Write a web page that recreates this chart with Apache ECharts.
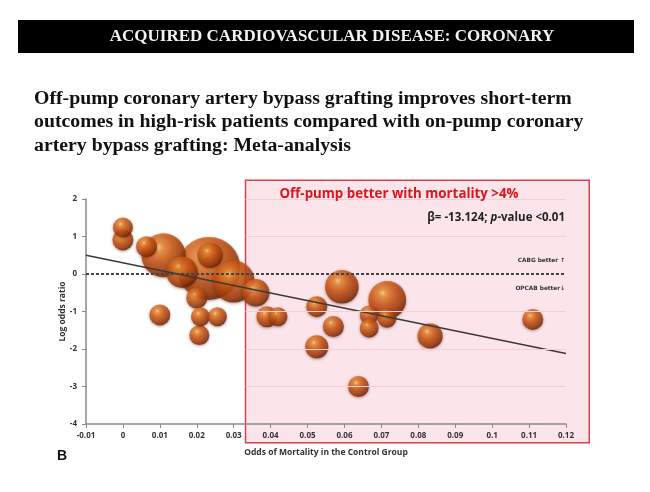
<!DOCTYPE html>
<html>
<head>
<meta charset="UTF-8">
<title>Off-pump meta-analysis</title>
<script src="https://cdn.jsdelivr.net/npm/echarts@6/dist/echarts.min.js"></script>
<style>
  html, body { margin: 0; padding: 0; background: #fff; }
  #main { width: 650px; height: 492px; }
</style>
</head>
<body>
<div id="main"></div>
<script>
// odds of mortality in control group (x), log odds ratio (y), relative study weight
var oddsX  = [0.0233, 0.0110, 0.0716, 0.0593, 0.0300, 0.0160, 0.0236, 0.0360, 0.0832,
              0.0000, 0.0000, 0.0064, 0.0200, 0.0100, 0.0210, 0.0256, 0.0207, 0.0390, 0.0420,
              0.0525, 0.0570, 0.0525, 0.0638, 0.0667, 0.0667, 0.0715, 0.1110];
var logOR  = [0.15, 0.50, -0.69, -0.34, -0.20, 0.05, 0.50, -0.50, -1.65,
              1.24, 0.91, 0.73, -0.64, -1.09, -1.14, -1.14, -1.63, -1.14, -1.14,
              -0.87, -1.40, -1.94, -3.00, -1.09, -1.44, -1.18, -1.21];
var weight = [60, 42, 36, 32, 40, 30, 24, 26, 24,
              19, 20, 20, 20, 20, 18, 18, 19, 20, 18,
              20, 20, 22, 20, 18, 18, 18, 20];

// meta-regression line end points
var fitX = [-0.01, 0.12];
var fitY = [0.50, -2.12];

var yTicks = [2, 1, -1, -2, -3];      // faint guide lines inside shaded box
var boxX = [0.0332, 0.1263];          // shaded region (data units)
var boxY = [2.5, -4.5];

var points = oddsX.map(function (x, i) { return [x, logOR[i], weight[i]]; });
points.sort(function (a, b) { return b[2] - a[2]; });

var sphere = new echarts.graphic.RadialGradient(0.38, 0.32, 0.72, [
  { offset: 0, color: '#ffd77e' },
  { offset: 0.15, color: '#f08c38' },
  { offset: 0.45, color: '#cf5814' },
  { offset: 0.8, color: '#9a3608' },
  { offset: 1, color: '#571c05' }
]);

var chart = echarts.init(document.getElementById('main'));

var labelFont = { fontFamily: 'Open Sans', fontWeight: 'bold', fontSize: 8, color: '#333' };

var option = {
  animation: false,
  grid: { left: 86, right: 84, top: 199, bottom: 68 },
  xAxis: {
    type: 'value', min: -0.01, max: 0.12, interval: 0.01,
    name: 'Odds of Mortality in the Control Group',
    nameLocation: 'middle', nameGap: 24,
    nameTextStyle: { fontFamily: 'Open Sans', fontWeight: 'bold', fontSize: 8.5, color: '#333' },
    axisLine: { onZero: false, lineStyle: { color: '#8a8a8a', width: 1.5 } },
    axisTick: { show: true, length: 4, lineStyle: { color: '#8a8a8a' } },
    axisLabel: Object.assign({ margin: 8 }, labelFont),
    splitLine: { show: false }
  },
  yAxis: {
    type: 'value', min: -4, max: 2, interval: 1,
    name: 'Log odds ratio',
    nameLocation: 'middle', nameGap: 19, nameMoveOverlap: false,
    nameTextStyle: { fontFamily: 'Open Sans', fontWeight: 'bold', fontSize: 8.5, color: '#333' },
    axisLine: { show: true, onZero: false, lineStyle: { color: '#8a8a8a', width: 1.5 } },
    axisTick: { show: true, length: 4, lineStyle: { color: '#8a8a8a' } },
    axisLabel: Object.assign({ margin: 9 }, labelFont),
    splitLine: { show: false }
  },
  series: [
    {
      type: 'line',
      name: 'guides',
      data: [],
      silent: true,
      z: 1,
      markLine: {
        silent: true, symbol: 'none', animation: false,
        label: { show: false },
        lineStyle: { color: '#f6ccd5', type: 'solid', width: 1 },
        data: yTicks.map(function (v) {
          return [{ coord: [boxX[0], v] }, { coord: [0.12, v] }];
        })
      }
    },
    {
      type: 'scatter',
      name: 'studies',
      z: 3,
      data: points,
      symbolSize: function (d) { return d[2] * 1.05; },
      itemStyle: {
        color: sphere,
        shadowBlur: 3, shadowColor: 'rgba(80,25,0,0.55)', shadowOffsetY: 1
      },
      markLine: {
        silent: true, symbol: 'none', animation: false,
        label: { show: false },
        lineStyle: { color: '#444', type: [3, 2], width: 2 },
        data: [{ yAxis: 0 }]
      }
    },
    {
      type: 'line',
      name: 'fit',
      z: 4,
      data: fitX.map(function (x, i) { return [x, fitY[i]]; }),
      symbol: 'none',
      lineStyle: { color: '#3a3a3a', width: 1.5 }
    }
  ]
};

chart.setOption(option);

var tl = chart.convertToPixel({ gridIndex: 0 }, [boxX[0], boxY[0]]);
var br = chart.convertToPixel({ gridIndex: 0 }, [boxX[1], boxY[1]]);

chart.setOption({
  graphic: [
    { type: 'rect', z: -10, shape: { x: 18, y: 20, width: 616, height: 33 }, style: { fill: '#000' } },
    { type: 'text', z: 10, x: 332, y: 37, style: {
        text: 'ACQUIRED CARDIOVASCULAR DISEASE: CORONARY', fill: '#f2f2f2',
        font: 'bold 17px "Liberation Serif"', textAlign: 'center', textVerticalAlign: 'middle' } },
    { type: 'text', z: 10, x: 34, y: 87, style: {
        text: 'Off-pump coronary artery bypass grafting improves short-term\noutcomes in high-risk patients compared with on-pump coronary\nartery bypass grafting: Meta-analysis',
        fill: '#111', font: 'bold 19.8px "Liberation Serif"', lineHeight: 23.5 } },
    { type: 'rect', z: -5, shape: { x: tl[0], y: tl[1], width: br[0] - tl[0], height: br[1] - tl[1] },
      style: { fill: '#fbe4ea', stroke: '#d8424e', lineWidth: 1.5 } },
    { type: 'text', z: 10, x: 399, y: 194, style: {
        text: 'Off-pump better with mortality >4%', fill: '#e0121c',
        font: 'bold 13.3px "Open Sans"', textAlign: 'center', textVerticalAlign: 'middle' } },
    { type: 'text', z: 10, x: 565, y: 218, style: {
        rich: { b: { font: 'bold 11.5px "Open Sans"', fill: '#222' }, i: { font: 'italic bold 11.5px "Open Sans"', fill: '#222' } },
        text: '{b|β= -13.124; }{i|p}{b|-value <0.01}', textAlign: 'right', textVerticalAlign: 'middle' } },
    { type: 'text', z: 10, x: 565, y: 260, style: {
        text: 'CABG better \u2191', fill: '#333', font: 'bold 5.8px "DejaVu Sans"',
        textAlign: 'right', textVerticalAlign: 'middle' } },
    { type: 'text', z: 10, x: 565, y: 288, style: {
        text: 'OPCAB better\u2193', fill: '#333', font: 'bold 5.8px "DejaVu Sans"',
        textAlign: 'right', textVerticalAlign: 'middle' } },
    { type: 'text', z: 10, x: 57, y: 456, style: {
        text: 'B', fill: '#111', font: 'bold 14px "Liberation Sans"', textVerticalAlign: 'middle' } }
  ]
});
</script>
</body>
</html>
